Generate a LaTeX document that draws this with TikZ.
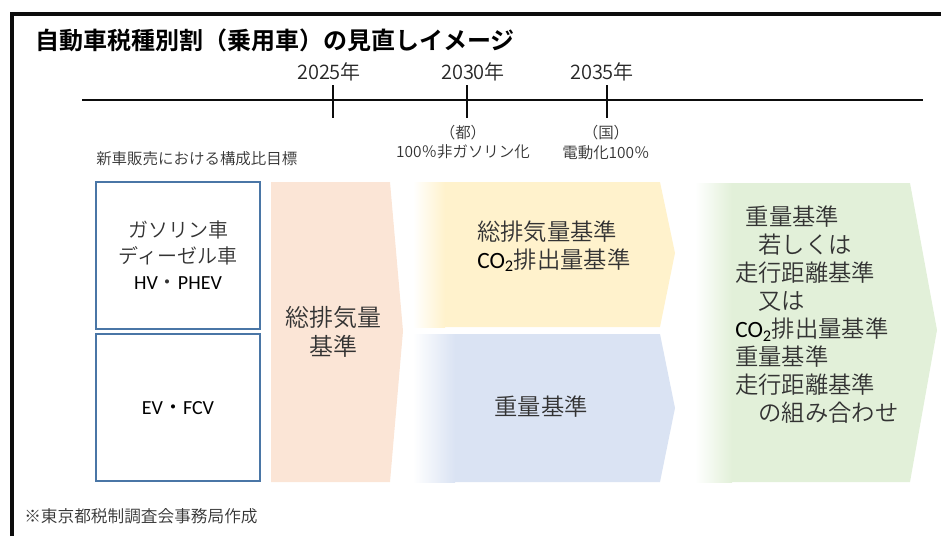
\documentclass[tikz,border=0pt]{standalone}
\usepackage{fontspec}
\usepackage{xcolor}
\usepackage{tikz}
\usetikzlibrary{positioning,calc}
\setmainfont{Noto Sans CJK JP DemiLight}[BoldFont={Noto Sans CJK JP Bold}]
\newfontfamily\latf{Carlito}
\definecolor{framegray}{HTML}{0D0D0D}
\definecolor{txtgray}{HTML}{333333}
\definecolor{boxblue}{HTML}{4A76A6}
\definecolor{peach}{HTML}{FBE5D6}
\definecolor{lightyellow}{HTML}{FFF2CC}
\definecolor{paleblue}{HTML}{DAE3F3}
\definecolor{palegreen}{HTML}{E2F0D9}
\tikzset{
  jtxt/.style={inner sep=0,text=txtgray,font=\fontsize{15}{19.5}\selectfont},
  bigtxt/.style={inner sep=0,text=txtgray,font=\fontsize{17.5}{21}\selectfont},
  smalltxt/.style={inner sep=0,text=txtgray,font=\fontsize{11}{14}\selectfont},
  carbox/.style={draw=boxblue,line width=1.6pt}
}
\newcommand{\cotwo}{{\latf\color{black}CO\textsubscript{2}}}

\begin{document}
\begin{tikzpicture}[x=0.75pt,y=-0.75pt]
  \useasboundingbox (0,0) rectangle (941,536);

  % Frame and title
  \draw[line width=3pt,framegray] (12,536) -- (12,14) -- (941,14);
  \node[anchor=west,inner sep=0,font=\fontsize{18}{20}\selectfont\bfseries] (title) at (35,40)
    {自動車税種別割（乗用車）の見直しイメージ};

  % Time line
  \draw[line width=2pt,framegray] (82,100) -- (923,100);
  \foreach \tx/\lx/\yr in {333/329/2025,467/473/2030,607/602/2035} {
    \draw[line width=2pt,framegray] (\tx,85) -- (\tx,118);
    \node[jtxt,text=black!85] (y\yr) at (\lx,72) {\yr 年};
  }

  % Targets
  \node[smalltxt,align=center,font=\fontsize{11.6}{14.3}\selectfont] (tokyo) at (463,142.5) {（都）\\100％非ガソリン化};
  \node[smalltxt,align=center,font=\fontsize{11.6}{14.3}\selectfont] (kuni) at (606,142.5) {（国）\\電動化100％};
  \node[smalltxt,anchor=west,font=\fontsize{11.6}{14}\selectfont] (goal) at (96,159) {新車販売における構成比目標};

  % Vehicle boxes
  \draw[carbox] (96,182) rectangle (260,329);
  \draw[carbox] (96,334) rectangle (260,481);
  \node[jtxt,align=center] (ice) at (178,255)
    {ガソリン車\\ディーゼル車\\{\latf\color{black}HV}・{\latf\color{black}PHEV}};
  \node[jtxt,text=black] (ev) at (178,408) {{\latf EV}・{\latf FCV}};

  % Tax standard arrows
  \fill[peach] (271,182) -- (390,182) -- (403,331) -- (390,482) -- (271,482) -- cycle;
  \fill[lightyellow] (413,182) -- (660,182) -- (675,253) -- (660,327) -- (413,327) -- cycle;
  \shade[left color=white,right color=lightyellow] (413,182) rectangle (445,327);
  \fill[paleblue] (413,334) -- (660,334) -- (675,408) -- (660,482) -- (413,482) -- cycle;
  \shade[left color=white,right color=paleblue] (413,334) rectangle (455,482);
  \fill[palegreen] (695,183) -- (910,183) -- (937,330) -- (910,482) -- (695,482) -- cycle;
  \shade[left color=white,right color=palegreen] (695,183) rectangle (732,482);

  \node[bigtxt,align=center,font=\fontsize{18}{21.8}\selectfont] (disp) at (333,332) {総排気量\\基準};
  \node[bigtxt,align=left,anchor=west] (dispco) at (477,246) {総排気量基準\\\cotwo 排出量基準};
  \node[bigtxt] (weight) at (541,407) {重量基準};
  \node[bigtxt,align=left,anchor=west] (future) at (735,315)
    {\hspace{0.45em}重量基準\\\hspace{1em}若しくは\\走行距離基準\\\hspace{1em}又は\\
     \cotwo 排出量基準\\重量基準\\走行距離基準\\\hspace{1em}の組み合わせ};

  % Source
  \node[smalltxt,anchor=west,font=\fontsize{12.5}{14}\selectfont] (src) at (24,516) {※東京都税制調査会事務局作成};
\end{tikzpicture}
\end{document}
